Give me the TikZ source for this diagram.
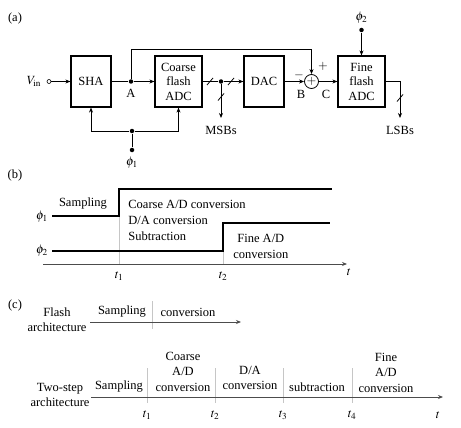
\documentclass[tikz,border=0pt]{standalone}
\usepackage{mathptmx}
\usepackage{fontspec}
\setmainfont{Liberation Serif}
\usetikzlibrary{arrows.meta}

\newcommand{\busmark}[1]{\draw ([shift={(-3,3.5)}]#1) -- ++(6,-7);}

\begin{document}
\begin{tikzpicture}[x=1pt,y=-1pt,line width=0.8pt,
    >={Stealth[length=5pt,width=4pt]},
    every node/.style={font=\fontsize{12.5}{14.5}\selectfont, inner sep=1pt},
    block/.style={draw, line width=1.2pt, minimum width=40pt, minimum height=51pt, align=center, inner sep=0pt},
    wideblock/.style={block, minimum width=47pt},
    dot/.style={circle, fill, inner sep=0pt, minimum size=4.5pt},
    port/.style={circle, draw, line width=0.6pt, inner sep=0pt, minimum size=4pt},
    sumnode/.style={circle, draw, inner sep=0pt, minimum size=14pt},
    wave/.style={line width=1.4pt},
    divider/.style={gray!45, line width=0.6pt},
    axis/.style={->, gray!60!black, line width=0.9pt},
    txt/.style={align=center, font=\fontsize{12.5}{15.5}\selectfont}]
	\useasboundingbox (0,0) rectangle (461,428);

		% (a) two-step converter
		\node (lbla)     at (15,18)     {(a)};
		\node (vinlabel) at (34,81.5)   {$V_{\mathrm{in}}$};
		\node[port] (vin)      at (49,81.5)   {};
		\node[block] (sha)     at (91,81.5)   {SHA};
		\node[dot] (A)         at (131,81.5)  {};
		\node (lblA)     at (131,93)    {A};
		\node[wideblock] (coarse) at (178.5,81.5) {Coarse\\flash\\ADC};
		\node[dot] (msb)       at (221,81.5)  {};
		\node[block] (dac)     at (264,81.5)  {DAC};
		\node[sumnode] (sum)   at (311.5,81.5) {$+$};
		\node (minus)    at (299,75)    {$-$};
		\node (plus)     at (323,66)    {$+$};
		\node (lblB)     at (301,94)    {B};
		\node (lblC)     at (326,94)    {C};
		\node[wideblock] (fine) at (361.5,81.5) {Fine\\flash\\ADC};
		\node (ph2)      at (361.5,18)  {$\phi_2$};
		\node[dot] (ph2dot)    at (361.5,30)  {};
		\node[dot] (q)         at (132,131)   {};
		\node[dot] (ph1dot)    at (132,150)   {};
		\node (ph1)      at (132,163)   {$\phi_1$};
		\coordinate (msbend) at (221,118);
		\coordinate (lsbend) at (400,118);
		\node (msbs)     at (221,130)   {MSBs};
		\node (lsbs)     at (400,130)   {LSBs};

		\draw[->] (vin) -- (sha);
		\draw (sha) -- (A);
		\draw[->] (A) -- (coarse);
		\draw[->] (A) -- ++(0,-32.5) -| (sum.north);
		\draw (coarse) -- (msb);
		\draw[->] (msb) -- (dac);
		\draw[->] (msb) -- (msbend);
		\draw[->] (dac) -- (sum);
		\draw[->] (sum) -- (fine);
		\draw[->] (ph2dot) -- (fine);
		\draw[->] (fine.east) -| (lsbend);
		\draw (ph1dot) -- (q);
		\draw[->] (q) -| (sha.south);
		\draw[->] (q) -| (coarse.south);

		\busmark{210,81.5}
		\busmark{231,81.5}
		\busmark{221,97}
		\busmark{400,98}

		% (b) clock phases
		\node (lblb)     at (15,175)    {(b)};
		\node (ph1b)     at (42,217)    {$\phi_1$};
		\node (ph2b)     at (42,251)    {$\phi_2$};
		\draw[divider] (119,189) -- (119,264);
		\draw[divider] (223,223) -- (223,264);
		\draw[wave] (52,216) -- (119,216) -- (119,189) -- (332,189);
		\draw[wave] (52,251) -- (223,251) -- (223,223) -- (330,223);
		\node (samp)     at (83,204)    {Sampling};
		\node[anchor=west] (coarseb) at (127,204) {Coarse A/D conversion};
		\node[anchor=west] (dab)     at (127,220) {D/A conversion};
		\node[anchor=west] (subb)    at (127,236) {Subtraction};
		\node[txt, anchor=west] (fineb) at (232,246.5) {Fine A/D\\conversion};
		\draw[axis] (43,264) -- (347,264);
		\node (tb)       at (349,272)   {$t$};
		\node (t1b)      at (119,276)   {$t_1$};
		\node (t2b)      at (223,276)   {$t_2$};

		% (c) timing of the two architectures
		\node (lblc)     at (15,305)    {(c)};
		\node[txt] (flash)    at (57,319.5)  {Flash\\architecture};
		\draw[divider] (152,301) -- (152,329);
		\draw[axis] (90,322) -- (241,322);
		\node (sampc)    at (122,312)   {Sampling};
		\node (convc)    at (188,312)   {conversion};

		\node[txt] (twostep)  at (60,395)    {Two-step\\architecture};
		\foreach \x in {147,215,283,352}
			\draw[divider] (\x,368) -- (\x,403);
		\draw[axis] (91,397) -- (443,397);
		\node (samp2)    at (119,387)   {Sampling};
		\node[txt] (coarsec)  at (183,371.5) {Coarse\\A/D\\conversion};
		\node[txt] (dac2)     at (250,378)   {D/A\\conversion};
		\node (subc)     at (317,387)   {subtraction};
		\node[txt] (finec)    at (386,372.5) {Fine\\A/D\\conversion};
		\node (t1c)      at (147,415)   {$t_1$};
		\node (t2c)      at (215,415)   {$t_2$};
		\node (t3c)      at (283,415)   {$t_3$};
		\node (t4c)      at (352,415)   {$t_4$};
		\node (tc)       at (438,415)   {$t$};

	\end{tikzpicture}
\end{document}
